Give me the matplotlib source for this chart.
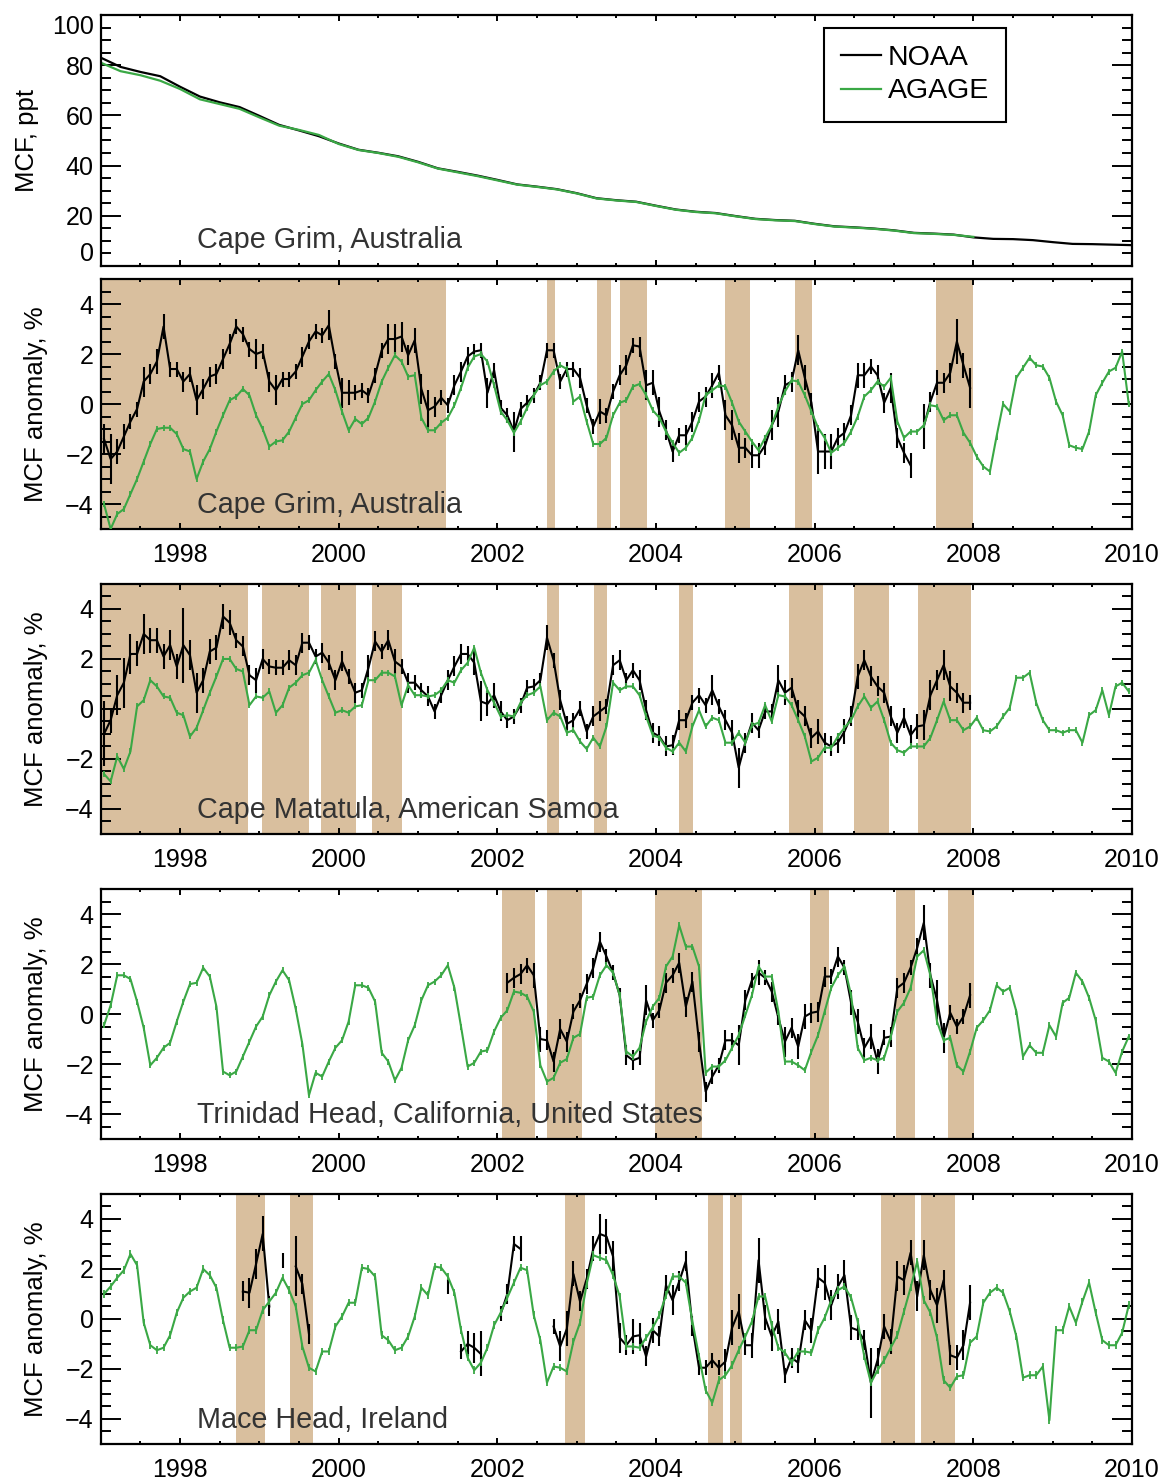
import numpy as np
import matplotlib.pyplot as plt
from matplotlib.ticker import MultipleLocator, FormatStrFormatter

plt.rcParams['font.family'] = ['Liberation Sans', 'DejaVu Sans']

nan = np.nan

NOAA_COLOR = 'black'
AGAGE_COLOR = '#3aa845'
SHADE_COLOR = '#d9bf9e'

# ---- Cape Grim mixing ratio (ppt), quarterly from 1997.0 ----
mcf_noaa = [83.0, 79.3, 77.3, 75.6, 71.4, 67.5, 65.2, 63.3, 59.8, 56.2, 54.0, 51.7,
            48.8, 46.3, 45.1, 43.7, 41.5, 38.9, 37.5, 36.0, 34.3, 32.5, 31.6, 30.6,
            29.0, 27.0, 26.2, 25.6, 24.0, 22.5, 21.6, 21.1, 19.9, 18.8, 18.3, 18.0,
            16.8, 15.8, 15.4, 14.9, 14.2, 13.2, 12.9, 12.5, 11.4, 10.8, 10.7, 10.3,
            9.5, 8.8, 8.7, 8.5, 8.3]
mcf_agage = [81.0, 77.6, 76.0, 73.8, 70.5, 66.4, 64.5, 62.6, 59.2, 55.9, 54.2, 52.2,
             48.6, 46.2, 45.0, 43.5, 41.3, 38.8, 37.3, 35.8, 34.1, 32.4, 31.5, 30.5,
             28.9, 26.9, 26.1, 25.5, 23.9, 22.4, 21.5, 21.0, 19.8, 18.7, 18.2, 17.9,
             16.7, 15.7, 15.3, 14.8, 14.1, 13.1, 12.8, 12.4, 11.6]

# ---- monthly anomalies (%), first month = Jan 1997 ----
grim_agage = [-4.0, -5.0, -4.4, -4.2, -3.6, -3.0, -2.3, -1.6, -1.0, -0.95, -0.95, -1.2,
              -1.8, -1.9, -3.0, -2.3, -1.8, -1.1, -0.45, 0.15, 0.3, 0.6, 0.35, -0.45,
              -1.0, -1.7, -1.5, -1.45, -1.1, -0.55, 0.0, 0.15, 0.55, 0.9, 1.2, 0.55,
              -0.3, -1.05, -0.6, -0.8, -0.55, 0.1, 0.9, 1.45, 1.95, 1.7, 1.1, 1.15,
              -0.55, -1.05, -1.05, -0.75, -0.55, -0.05, 0.65, 1.45, 1.9, 2.0, 1.7, 0.75,
              -0.3, -0.65, -1.15, -0.7, -0.15, 0.35, 0.75, 0.9, 1.3, 1.55, 1.4, 0.1,
              0.3, -0.7, -1.6, -1.6, -1.35, -0.45, 0.05, 0.15, 0.7, 0.8, 0.35, -0.25,
              -0.55, -1.1, -1.55, -1.95, -1.75, -1.35, -0.65, 0.35, 0.55, 0.75, 0.7, 0.05,
              -0.7, -1.1, -1.5, -1.85, -1.35, -0.85, -0.1, 0.5, 0.95, 0.9, 0.35, -0.3,
              -0.95, -1.35, -1.95, -1.75, -1.55, -1.1, -0.5, 0.3, 0.55, 0.9, 0.7, 1.05,
              -0.7, -1.35, -1.1, -1.1, -0.85, -0.05, -0.1, -0.65, -0.45, -0.45, -1.15, -1.55,
              -2.1, -2.5, -2.7, -1.3, 0.0, -0.3, 1.05, 1.45, 1.85, 1.55, 1.5, 1.05,
              0.1, -0.45, -1.65, -1.75, -1.8, -1.1, 0.35, 0.85, 1.3, 1.45, 2.1, 0.0]
grim_noaa = [-1.4, -2.2, -1.9, -1.3, -0.7, -0.2, 0.9, 1.2, 1.7, 3.1, 1.4, 1.4,
             0.9, 1.2, 0.15, 0.6, 1.1, 1.2, 1.8, 2.4, 3.1, 2.8, 2.2, 2.0,
             2.1, 0.9, 0.55, 1.0, 1.0, 1.3, 1.9, 2.5, 2.9, 2.75, 3.15, 1.7,
             0.45, 0.45, 0.45, 0.55, 0.35, 1.15, 2.15, 2.6, 2.6, 2.7, 1.95, 2.55,
             0.6, -0.25, -0.1, 0.25, -0.05, 0.75, 1.3, 1.9, 2.1, 2.15, 0.45, 1.35,
             -0.15, -0.45, -1.1, -0.2, 0.05, 0.35, 0.85, 2.15, 2.15, 0.9, 1.4, 1.4,
             1.05, -0.05, -0.9, -0.3, -0.45, 0.5, 1.15, 1.55, 2.35, 2.3, 0.75, 0.85,
             -0.3, -1.05, -1.9, -1.25, -1.25, -0.7, 0.1, 0.3, 0.75, 1.25, -0.45, -0.85,
             -1.75, -1.75, -2.05, -2.05, -1.65, -0.85, -0.3, 0.75, 0.9, 2.15, 1.05, 0.05,
             -1.9, -1.9, -1.9, -1.35, -1.15, -0.45, 1.15, 1.15, 1.5, 1.15, 0.05, 0.65,
             -1.35, -1.95, -2.45, nan, -0.9, 0.1, 0.85, 0.85, 1.25, 2.5, 1.55, 0.65]
grim_noaa_err = [0.6, 1.0, 0.5, 0.5, 0.3, 0.3, 0.6, 0.4, 0.5, 0.5, 0.3, 0.3,
                 0.4, 0.3, 0.6, 0.4, 0.4, 0.4, 0.4, 0.4, 0.3, 0.3, 0.3, 0.6,
                 0.3, 0.4, 0.6, 0.3, 0.3, 0.3, 0.4, 0.3, 0.3, 0.3, 0.6, 0.3,
                 0.6, 0.5, 0.3, 0.3, 0.3, 0.3, 0.3, 0.6, 0.6, 0.6, 0.4, 0.5,
                 0.6, 0.8, 0.4, 0.3, 0.3, 0.4, 0.4, 0.4, 0.3, 0.3, 0.6, 0.3,
                 0.3, 0.3, 0.8, 0.3, 0.3, 0.3, 0.3, 0.3, 0.3, 0.3, 0.3, 0.3,
                 0.4, 0.3, 0.3, 0.5, 0.3, 0.3, 0.4, 0.4, 0.3, 0.4, 0.6, 0.5,
                 0.6, 0.4, 0.4, 0.3, 0.4, 0.4, 0.4, 0.4, 0.5, 0.3, 0.6, 0.6,
                 0.6, 0.4, 0.5, 0.5, 0.4, 0.6, 0.6, 0.4, 0.4, 0.6, 0.5, 0.4,
                 0.9, 0.7, 0.7, 0.4, 0.4, 0.4, 0.5, 0.5, 0.3, 0.4, 0.4, 0.6,
                 0.4, 0.4, 0.5, nan, 0.9, 0.4, 0.5, 0.4, 0.4, 0.9, 0.5, 0.8]

samoa_agage = [-2.6, -2.9, -1.9, -2.4, -1.7, 0.1, 0.35, 1.15, 0.9, 0.5, 0.45, -0.15,
               -0.25, -1.1, -0.75, -0.05, 0.65, 1.3, 2.0, 2.0, 1.6, 1.5, 0.15, 0.5,
               0.45, 0.7, -0.15, 0.15, 0.85, 1.05, 1.35, 1.45, 1.95, 1.15, 0.5, -0.15,
               -0.05, -0.15, 0.1, 0.15, 1.15, 1.15, 1.45, 1.45, 1.3, 0.15, 0.95, 0.55,
               0.55, 0.5, 0.55, 0.75, 1.15, 1.05, 1.55, 1.85, 2.45, 1.45, 0.75, 0.25,
               -0.3, -0.25, -0.3, 0.25, 0.55, 0.65, 0.9, -0.45, -0.15, -0.3, -0.95, -0.85,
               -1.3, -1.6, -1.15, -1.5, -0.7, 1.05, 0.75, 0.9, 0.9, 0.55, -0.3, -1.05,
               -1.15, -1.55, -1.7, -1.35, -1.7, -0.7, -0.05, -0.7, -0.35, -0.45, -1.35, -1.35,
               -0.95, -1.35, -0.65, -0.55, 0.15, -0.5, 0.55, 0.5, 0.15, -0.45, -1.1, -2.1,
               -1.95, -1.55, -1.55, -1.1, -0.75, -0.45, 0.1, 0.5, 0.05, 0.3, -0.45, -1.35,
               -1.65, -1.75, -1.5, -1.5, -1.5, -1.15, -0.45, 0.3, -0.45, -0.45, -0.85, -0.7,
               -0.35, -0.85, -0.9, -0.7, -0.3, 0.05, 1.25, 1.25, 1.45, 0.25, -0.45, -0.85,
               -0.85, -0.95, -0.85, -0.85, -1.35, -0.25, -0.05, 0.75, -0.25, 0.9, 1.05, 0.7]
samoa_noaa = [-1.0, -0.45, 0.55, 1.05, 2.2, 2.2, 3.0, 2.75, 2.75, 2.1, 2.55, 1.7,
              2.55, 2.15, 0.65, 1.15, 2.3, 2.45, 3.7, 3.45, 2.75, 2.5, 1.35, 1.15,
              2.0, 1.7, 1.65, 1.65, 1.95, 1.75, 2.65, 2.65, 2.1, 2.25, 1.85, 1.15,
              1.9, 1.3, 0.65, 0.75, 1.65, 2.7, 2.3, 2.75, 1.9, 1.7, 1.05, 1.05,
              0.75, 0.5, -0.1, 0.55, 1.15, 1.7, 2.2, 2.2, 1.85, 0.3, 0.2, 0.55,
              -0.1, -0.45, -0.3, 0.15, 0.85, 0.9, 1.15, 2.85, 1.95, 0.35, -0.6, -0.45,
              0.0, -0.9, -0.3, -0.1, 0.1, 1.75, 1.95, 1.15, 1.55, 1.15, -0.05, -0.95,
              -1.1, -1.5, -1.45, -0.45, -0.45, 0.25, 0.55, 0.15, 0.75, 0.1, -0.45, -0.95,
              -2.35, -1.35, -0.55, -0.85, -0.1, -0.1, 1.15, 0.65, 0.85, -0.05, -0.3, -1.15,
              -0.9, -1.35, -1.5, -1.35, -0.9, -0.3, 1.3, 1.95, 1.3, 0.9, 0.65, -0.3,
              -0.95, -0.35, -1.05, -0.7, -0.65, 0.55, 1.15, 1.75, 0.9, 0.65, 0.25, 0.25]
samoa_noaa_err = [1.3, 0.5, 0.8, 1.0, 0.8, 0.5, 0.8, 0.5, 0.5, 0.5, 0.6, 0.5,
                  1.5, 0.6, 0.8, 0.5, 0.5, 0.5, 0.5, 0.5, 0.3, 0.4, 0.4, 0.5,
                  0.4, 0.3, 0.3, 0.3, 0.4, 0.4, 0.4, 0.3, 0.3, 0.4, 0.3, 0.4,
                  0.4, 0.3, 0.4, 0.3, 0.5, 0.4, 0.3, 0.4, 0.5, 0.3, 0.4, 0.3,
                  0.3, 0.4, 0.3, 0.3, 0.4, 0.4, 0.4, 0.3, 0.5, 0.8, 0.5, 0.5,
                  0.4, 0.3, 0.3, 0.3, 0.3, 0.3, 0.3, 0.5, 0.3, 0.4, 0.3, 0.3,
                  0.3, 0.3, 0.4, 0.4, 0.3, 0.4, 0.4, 0.3, 0.3, 0.4, 0.4, 0.4,
                  0.4, 0.4, 0.4, 0.4, 0.3, 0.3, 0.3, 0.3, 0.6, 0.3, 0.4, 0.5,
                  0.8, 0.4, 0.4, 0.3, 0.3, 0.3, 0.6, 0.5, 0.4, 0.4, 0.4, 0.4,
                  0.5, 0.4, 0.4, 0.4, 0.5, 0.4, 0.5, 0.4, 0.4, 0.4, 0.4, 0.4,
                  0.4, 0.4, 0.4, 0.5, 0.6, 0.6, 0.4, 0.6, 0.6, 0.4, 0.4, 0.3]

trin_agage = [-0.45, 0.35, 1.55, 1.55, 1.4, 0.5, -0.55, -2.05, -1.75, -1.35, -1.15, -0.3,
              0.5, 1.2, 1.25, 1.85, 1.5, 0.3, -2.3, -2.45, -2.3, -1.7, -1.1, -0.5,
              -0.1, 0.75, 1.3, 1.75, 1.35, 0.2, -1.2, -3.25, -2.35, -2.5, -1.9, -1.35,
              -1.05, -0.3, 1.15, 1.15, 1.05, 0.5, -1.55, -1.9, -2.65, -2.15, -1.05, -0.45,
              0.55, 1.15, 1.3, 1.55, 1.95, 1.05, -0.5, -2.1, -1.95, -1.5, -1.45, -0.7,
              -0.15, 0.15, 0.9, 0.85, 0.7, 0.1, -2.05, -2.7, -2.55, -1.95, -1.8, -0.95,
              -0.8, 0.65, 0.7, 1.55, 1.95, 1.65, 0.75, -1.5, -1.7, -1.35, -0.3, 0.3,
              0.65, 1.9, 2.3, 3.55, 2.7, 2.7, 1.9, -2.35, -2.1, -2.1, -1.85, -1.35,
              -0.85, -0.05, 0.75, 1.9, 1.5, 1.5, 0.1, -1.9, -1.9, -2.05, -2.25, -1.5,
              -0.85, 0.1, 1.05, 1.55, 1.9, 0.75, -1.35, -1.85, -1.75, -1.85, -1.75, -0.9,
              0.1, 0.45, 1.05, 2.3, 2.55, 1.55, -0.3, -1.05, -0.95, -2.05, -2.3, -1.5,
              -0.55, -0.25, 0.15, 1.15, 0.9, 1.05, 0.1, -1.7, -1.25, -1.55, -1.55, -0.45,
              -0.9, 0.45, 0.65, 1.65, 1.3, 0.65, -0.25, -1.75, -1.9, -2.35, -1.5, -0.9]
# Trinidad Head flask record starts in Feb 2002
trin_noaa = [nan] * 61 + [
    1.25, 1.45, 1.6, 1.95, 1.55, -1.0, -1.05, -1.9, -0.6, -1.1, 0.1,
    0.55, 1.2, 1.85, 2.9, 2.3, 1.65, 0.75, -1.65, -1.85, -1.75, 0.55, -0.25,
    0.15, 1.25, 1.55, 2.05, 0.3, 1.3, -1.1, -3.1, -2.5, -2.05, -1.05, -1.05,
    -1.25, 0.55, 1.35, 1.65, 1.45, 0.9, -0.15, -1.1, -0.55, -1.3, -0.1, 0.05,
    0.1, 1.5, 1.5, 2.3, 1.85, 0.45, -0.3, -1.35, -0.9, -1.9, -0.95, -0.9,
    1.05, 1.25, 1.85, 2.65, 3.65, 1.55, 0.55, -0.95, 0.05, -0.5, -0.1, 0.75]
trin_noaa_err = [nan] * 61 + [
    0.4, 0.4, 0.4, 0.3, 0.5, 0.5, 0.4, 0.4, 0.4, 0.4, 0.3,
    0.3, 0.4, 0.4, 0.4, 0.3, 0.3, 0.3, 0.4, 0.4, 0.3, 0.6, 0.3,
    0.3, 0.4, 0.3, 0.4, 0.4, 0.4, 0.4, 0.4, 0.3, 0.3, 0.4, 0.3,
    0.8, 0.4, 0.3, 0.5, 0.3, 0.4, 0.3, 0.6, 0.4, 0.5, 0.5, 0.4,
    0.4, 0.4, 0.3, 0.4, 0.3, 0.5, 0.5, 0.4, 0.5, 0.5, 0.3, 0.4,
    0.4, 0.4, 0.3, 0.4, 0.7, 0.5, 0.8, 0.6, 0.3, 0.3, 0.3, 0.5]

mace_agage = [1.0, 1.3, 1.65, 1.95, 2.6, 2.15, -0.15, -1.05, -1.25, -1.15, -0.65, 0.25,
              0.85, 1.1, 1.25, 2.0, 1.75, 1.25, -0.05, -1.15, -1.15, -1.1, -0.45, -0.45,
              0.35, 0.7, 1.05, 1.65, 1.15, 0.5, -1.1, -1.95, -2.1, -1.3, -1.3, -0.3,
              0.1, 0.65, 0.65, 2.05, 2.0, 1.7, -0.65, -0.85, -1.25, -1.15, -0.7, 0.1,
              1.25, 0.95, 2.1, 2.05, 1.7, 1.05, -0.45, -1.55, -2.05, -1.75, -1.15, -0.25,
              0.25, 0.85, 1.45, 2.05, 1.95, 0.15, -0.85, -2.55, -1.9, -1.95, -2.1, -0.9,
              -0.15, 1.4, 2.55, 2.45, 2.35, 1.75, 0.9, -1.1, -1.1, -1.15, -0.75, -0.35,
              0.15, 0.95, 1.7, 1.7, 1.45, -0.1, -1.5, -2.85, -3.35, -2.45, -2.25, -1.85,
              -1.25, -0.7, -0.1, 0.9, 0.9, -0.25, -1.15, -1.35, -1.75, -1.3, -1.3, -1.35,
              -0.45, 0.05, 0.75, 1.15, 1.3, 0.85, -0.1, -1.5, -2.55, -2.05, -1.65, -1.15,
              -0.65, 0.3, 1.25, 2.3, 0.75, 0.25, -0.75, -2.45, -2.75, -2.3, -2.25, -0.95,
              -0.7, 0.65, 1.05, 1.25, 1.05, 0.3, -0.7, -2.35, -2.25, -2.25, -1.9, -4.05,
              -0.45, -0.45, 0.5, -0.15, 0.7, 1.45, 0.25, -0.85, -1.05, -1.05, -0.55, 0.55]
mace_noaa = ([nan] * 21 + [1.1, 1.05, 2.2, 3.4, 0.5, nan, 2.35, nan, 2.1, 1.4, -0.6]
             + [nan] * 20 + [1.3, nan, -1.3, -1.0, -1.15, -1.4, nan, nan, 0.2, 1.0, 3.0, 2.8]
             + [nan] * 4 +
             [-0.3, -1.1, -0.4, 1.8, 0.7, 1.6, 2.8, 3.4, 3.3, 2.5,
              -0.75, -1.05, -0.7, -0.65, -1.5, -0.45, -0.7, 1.35, 0.75, 1.5, 2.3, -0.3,
              -1.95, -1.95, -1.65, -1.95, -1.7, -0.35, 0.3, -1.05, -1.05, 2.35, 0.05, -0.7,
              -0.1, -2.25, -1.55, -1.75, -0.05, -0.45, 1.65, 1.45, 0.55, 1.3, 1.75, -0.35,
              -0.45, -0.85, -2.55, -1.65, -0.3, -0.9, 1.7, 1.55, 2.65, 0.9, 2.55, 1.15,
              0.55, 1.55, -1.45, -1.55, -1.05, 0.65])
mace_noaa_err = ([nan] * 21 + [0.4, 0.6, 0.6, 0.7, 0.4, nan, 0.3, nan, 1.2, 0.4, 0.4]
                 + [nan] * 20 + [0.3, nan, 0.3, 0.5, 0.6, 0.9, nan, nan, 0.3, 0.4, 0.3, 0.5]
                 + [nan] * 4 +
                 [0.3, 0.6, 0.7, 0.5, 0.4, 0.4, 0.5, 0.8, 0.7, 0.6,
                  0.6, 0.4, 0.7, 0.5, 0.4, 0.5, 0.4, 0.4, 0.6, 0.4, 0.4, 0.4,
                  0.3, 0.3, 0.3, 0.3, 0.5, 0.7, 0.7, 0.4, 0.5, 0.9, 0.5, 0.6,
                  0.5, 0.3, 0.4, 0.4, 0.4, 0.5, 0.4, 0.7, 0.6, 0.5, 0.6, 0.5,
                  0.4, 0.4, 1.4, 0.5, 0.5, 0.5, 0.6, 0.6, 0.5, 0.6, 0.6, 0.4,
                  0.7, 0.4, 0.4, 0.5, 0.6, 0.7])

# AGAGE monthly uncertainty per station (%)
agage_err = {'grim': 0.12, 'samoa': 0.12, 'trin': 0.12, 'mace': 0.15}

# periods with shading (decimal years)
grim_shade = [(1997.0, 2001.35), (2002.62, 2002.73), (2003.26, 2003.43), (2003.54, 2003.88),
              (2004.87, 2005.18), (2005.75, 2005.97), (2007.53, 2008.0)]
samoa_shade = [(1997.0, 1998.86), (1999.03, 1999.63), (1999.78, 2000.22), (2000.42, 2000.8),
               (2002.62, 2002.78), (2003.22, 2003.38), (2004.29, 2004.46), (2005.67, 2006.1),
               (2006.5, 2006.94), (2007.3, 2007.97)]
trin_shade = [(2002.06, 2002.48), (2002.62, 2003.07), (2003.99, 2004.58), (2005.94, 2006.18),
              (2007.02, 2007.27), (2007.68, 2008.01)]
mace_shade = [(1998.7, 1999.07), (1999.38, 1999.67), (2002.85, 2003.11), (2004.65, 2004.84),
              (2004.93, 2005.08), (2006.84, 2007.27), (2007.34, 2007.77)]

stations = ['Cape Grim, Australia', 'Cape Matatula, American Samoa',
            'Trinidad Head, California, United States', 'Mace Head, Ireland']

months = 1997 + (np.arange(156) + 0.5) / 12.0
quarters = 1997 + np.arange(53) * 0.25


def style_axis(ax):
    ax.set_xlim(1997, 2010)
    ax.xaxis.set_major_locator(MultipleLocator(2))
    ax.xaxis.set_minor_locator(MultipleLocator(0.5))
    ax.xaxis.set_major_formatter(FormatStrFormatter('%d'))
    ax.tick_params(axis='both', which='both', direction='in', top=True, right=True,
                   width=1.4, labelsize=18, colors='black')
    ax.tick_params(axis='y', which='major', length=14.4, pad=5)
    ax.tick_params(axis='y', which='minor', length=7.2)
    ax.tick_params(axis='x', which='major', length=4, pad=10)
    ax.tick_params(axis='x', which='minor', length=2.2)
    for sp in ax.spines.values():
        sp.set_linewidth(1.6)


fig = plt.figure(figsize=(11.63, 14.81), dpi=100)
left, width = 0.0866, 0.8868
bottoms = [0.8204, 0.6428, 0.4369, 0.2309, 0.0250]
heights = [0.1695, 0.1688, 0.1688, 0.1688, 0.1688]

# top panel: mixing ratios at Cape Grim
ax = fig.add_axes([left, bottoms[0], width, heights[0]])
l1, = ax.plot(quarters[:len(mcf_noaa)], mcf_noaa, color=NOAA_COLOR, lw=1.6, label='NOAA')
l2, = ax.plot(quarters[:len(mcf_agage)], mcf_agage, color=AGAGE_COLOR, lw=1.6, label='AGAGE')
style_axis(ax)
ax.set_ylim(0, 100)
ax.set_yticks([0, 20, 40, 60, 80, 100])
ax.yaxis.set_minor_locator(MultipleLocator(5))
ax.tick_params(axis='x', labelbottom=False)
# keep the end labels inside the frame
ticks = ax.yaxis.get_major_ticks()
ticks[0].label1.set_verticalalignment('bottom')
ticks[-1].label1.set_verticalalignment('top')
ax.set_ylabel('MCF, ppt', fontsize=18.5)
ax.yaxis.set_label_coords(-0.0594, 0.5)
ax.text(1998.21, 7.0, stations[0], fontsize=20.7, color='#333333', va='baseline')
leg = ax.legend(handles=[l1, l2], loc='upper right', bbox_to_anchor=(0.878, 0.948),
                borderaxespad=0, fontsize=20.5, fancybox=False, framealpha=1,
                edgecolor='black', borderpad=0.6, labelspacing=0.26,
                handlelength=1.4, handletextpad=0.25)
leg.get_frame().set_linewidth(1.5)

panels = [
    (grim_agage, grim_noaa, grim_noaa_err, agage_err['grim'], grim_shade),
    (samoa_agage, samoa_noaa, samoa_noaa_err, agage_err['samoa'], samoa_shade),
    (trin_agage, trin_noaa, trin_noaa_err, agage_err['trin'], trin_shade),
    (mace_agage, mace_noaa, mace_noaa_err, agage_err['mace'], mace_shade),
]

for k, (agage, noaa, noaa_err, a_err, shade) in enumerate(panels):
    ax = fig.add_axes([left, bottoms[k + 1], width, heights[k + 1]])
    for x0, x1 in shade:
        ax.axvspan(x0, x1, color=SHADE_COLOR, lw=0, zorder=0)
    ax.errorbar(months[:len(noaa)], noaa, yerr=noaa_err, color=NOAA_COLOR,
                lw=1.5, elinewidth=1.5, capsize=0, zorder=2)
    ax.errorbar(months[:len(agage)], agage, yerr=a_err, color=AGAGE_COLOR,
                lw=1.5, elinewidth=1.3, capsize=0, zorder=3)
    style_axis(ax)
    ax.set_ylim(-5, 5)
    ax.yaxis.set_major_locator(MultipleLocator(2))
    ax.yaxis.set_minor_locator(MultipleLocator(0.5))
    ax.set_ylabel('MCF anomaly, %', fontsize=18.5)
    ax.yaxis.set_label_coords(-0.051, 0.5)
    ax.text(1998.21, -4.37, stations[k], fontsize=20.7, color='#333333', va='baseline', zorder=4)

fig.savefig('out.png', dpi=100)
